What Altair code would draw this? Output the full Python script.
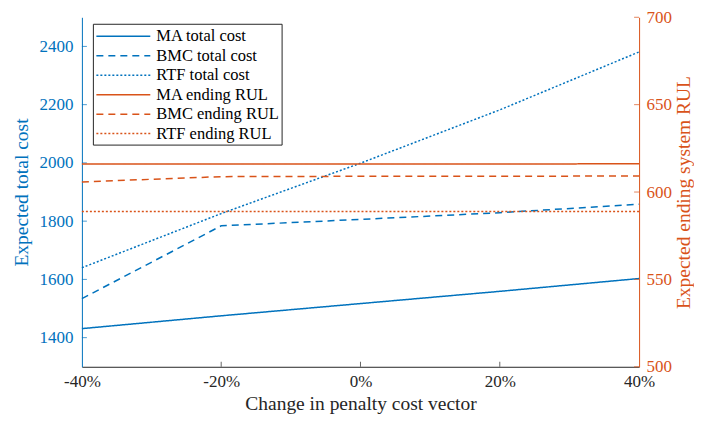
import altair as alt
import pandas as pd

# ---- data ----
x_change = [-40, -20, 0, 20, 40]
ma_cost = [1431, 1475, 1517, 1559, 1603]
bmc_cost = [1534, 1784, 1806, 1829, 1858]
rtf_cost = [1640, 1826, 1999, 2182, 2381]
ma_rul = [616.0, 616.0, 616.0, 616.0, 616.2]
bmc_rul = [605.8, 608.8, 609.0, 609.0, 609.2]
rtf_rul = [588.9, 588.9, 588.9, 588.9, 588.9]

series_names = ["MA total cost", "BMC total cost", "RTF total cost",
                "MA ending RUL", "BMC ending RUL", "RTF ending RUL"]
left_ticks = [1400, 1600, 1800, 2000, 2200, 2400]
right_ticks = [500, 550, 600, 650, 700]
x_ticks = [-40, -20, 0, 20, 40]

BLUE = "#0072BD"
ORANGE = "#D95319"
DARK = "#262626"
FONT = "Liberation Serif, Times New Roman, Times, serif"

cost_rows = []
for name, vals in zip(series_names[:3], [ma_cost, bmc_cost, rtf_cost]):
    for x, v in zip(x_change, vals):
        cost_rows.append({"x": x, "v": v, "series": name})
rul_rows = []
for name, vals in zip(series_names[3:], [ma_rul, bmc_rul, rtf_rul]):
    for x, v in zip(x_change, vals):
        rul_rows.append({"x": x, "v": v, "series": name})
cost_df = pd.DataFrame(cost_rows)
rul_df = pd.DataFrame(rul_rows)

W, H = 558, 350

x_scale = alt.Scale(domain=[-40, 40], nice=False, zero=False)
left_scale = alt.Scale(domain=[1300, 2500], nice=False, zero=False)
right_scale = alt.Scale(domain=[500, 700], nice=False, zero=False)

color_scale = alt.Scale(domain=series_names,
                        range=[BLUE, BLUE, BLUE, ORANGE, ORANGE, ORANGE])
dash_scale = alt.Scale(domain=series_names,
                       range=[[1, 0], [7, 5], [2, 2], [1, 0], [7, 5], [2, 2]])

x_enc = alt.X("x:Q", scale=x_scale,
              axis=alt.Axis(values=x_ticks, labelExpr="datum.value + '%'",
                            title="Change in penalty cost vector",
                            tickSize=0, domainColor=DARK, labelColor=DARK,
                            titleColor=DARK, labelPadding=7, titlePadding=5,
                            labelFlush=False, grid=False))

color_enc = alt.Color("series:N", scale=color_scale, sort=series_names,
                      legend=alt.Legend(title=None))
dash_enc = alt.StrokeDash("series:N", scale=dash_scale, sort=series_names,
                          legend=alt.Legend(title=None))

left_lines = alt.Chart(cost_df).mark_line(strokeWidth=1.5).encode(
    x=x_enc,
    y=alt.Y("v:Q", scale=left_scale,
            axis=alt.Axis(values=left_ticks, format="d",
                          title="Expected total cost",
                          orient="left", tickSize=0, domainColor=BLUE,
                          labelColor=BLUE, titleColor=BLUE, labelPadding=9,
                          titlePadding=7, labelFlush=False, grid=False)),
    color=color_enc,
    strokeDash=dash_enc,
)

left_tick_df = pd.DataFrame({"t": left_ticks})
left_tick_marks = alt.Chart(left_tick_df).mark_tick(
    orient="horizontal", size=5, thickness=1, color=BLUE, xOffset=2.5
).encode(y=alt.Y("t:Q", scale=left_scale), x=alt.value(0))

x_tick_df = pd.DataFrame({"t": x_ticks[1:-1]})
x_tick_marks = alt.Chart(x_tick_df).mark_tick(
    orient="vertical", size=5, thickness=1, color=DARK, yOffset=-2.5
).encode(x=alt.X("t:Q", scale=x_scale), y=alt.value(H))

right_lines = alt.Chart(rul_df).mark_line(strokeWidth=1.5).encode(
    x=x_enc,
    y=alt.Y("v:Q", scale=right_scale,
            axis=alt.Axis(values=right_ticks, format="d",
                          title="Expected ending system RUL",
                          orient="right", tickSize=0, domainColor=ORANGE,
                          labelColor=ORANGE, titleColor=ORANGE, labelPadding=7,
                          titlePadding=3, titleAngle=270, titleBaseline="top",
                          labelFlush=False, grid=False)),
    color=color_enc,
    strokeDash=dash_enc,
)

right_tick_df = pd.DataFrame({"t": right_ticks})
right_tick_marks = alt.Chart(right_tick_df).mark_tick(
    orient="horizontal", size=5, thickness=1, color=ORANGE, xOffset=-2.5
).encode(y=alt.Y("t:Q", scale=right_scale), x=alt.value(W))

left_group = alt.layer(left_lines, left_tick_marks, x_tick_marks)
right_group = alt.layer(right_lines, right_tick_marks)

chart = alt.layer(left_group, right_group).resolve_scale(
    y="independent"
).properties(
    width=W, height=H,
    padding={"left": 4, "top": 0, "right": 1, "bottom": 0},
).configure_view(
    stroke=None
).configure_axis(
    labelFont=FONT, titleFont=FONT, labelFontSize=17, titleFontSize=19.5,
    titleFontWeight="normal", domainWidth=1
).configure_legend(
    orient="none", legendX=11, legendY=6.5,
    labelFont=FONT, labelFontSize=16.5, labelColor="#000000",
    symbolType="M-1,0H5", symbolSize=324, symbolStrokeWidth=1.5,
    strokeColor=DARK, fillColor="white", padding=2.5, rowPadding=0.5,
    labelLimit=300, labelOffset=41
)

chart.save("out.html", embed_options={"renderer": "svg", "actions": False})
